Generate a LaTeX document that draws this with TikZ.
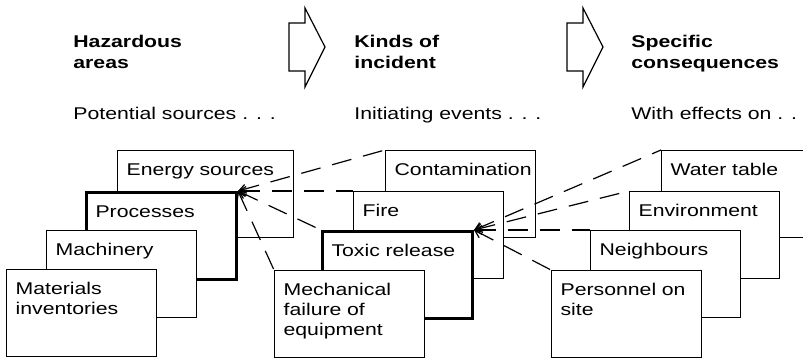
\documentclass[tikz,border=0pt]{standalone}
\usepackage{fontspec}
\setmainfont[FakeStretch=1.25]{Liberation Sans}
\usetikzlibrary{arrows.meta}
\tikzset{
  card/.style={draw, fill=white, line width=0.6pt, anchor=north west, inner xsep=4.5pt, inner ysep=0pt,
    text width=66pt, align=left, text height=12.5pt, text depth=31pt},
  hot/.style={line width=1.5pt},
  head/.style={anchor=base west, inner sep=0pt, text width=120pt, align=left,
    font=\bfseries\fontsize{8.5pt}{10.5pt}\selectfont},
  sub/.style={anchor=base west, inner sep=0pt},
  link/.style={line width=0.6pt, dash pattern=on 10pt off 6pt, {Straight Barb[length=3.5pt,width=4.5pt]}-}
}
\begin{document}
\begin{tikzpicture}[x=0.5pt, y=-0.5pt, font=\fontsize{8.5pt}{10pt}\selectfont]
\clip (0,0) rectangle (803,359);
% headings
\node[head] (hazard) at (73,47) {Hazardous\\areas};
\node[head] (kinds) at (354,47) {Kinds of\\incident};
\node[head] (specific) at (631,47) {Specific\\consequences};
\node[sub] (sources) at (73,119) {Potential sources . . .};
\node[sub] (events) at (354,119) {Initiating events . . .};
\node[sub] (effects) at (631,119) {With effects on . . .};
% block arrows
\foreach \x in {289,567}
  \draw[line width=0.6pt] (\x,23) -- ++(16,0) -- ++(0,-15) -- ++(20,39) -- ++(-20,40)
    -- ++(0,-16) -- ++(-16,0) -- cycle;
% hazardous areas
\node[card, text width=79pt] (energy) at (117,150) {Energy sources};
\node[card, hot] (processes) at (85,191) {Processes};
\node[card] (machinery) at (46,230) {Machinery};
\node[card] (materials) at (6,269) {Materials\\inventories};
% kinds of incident
\node[card] (contamination) at (385,150) {Contamination};
\node[card] (fire) at (353,191) {Fire};
\node[card, hot] (toxic) at (321,230) {Toxic release};
\node[card] (mechanical) at (274,270) {Mechanical\\failure of\\equipment};
% consequences
\node[card] (water) at (661,150) {Water table};
\node[card] (environment) at (629,191) {Environment};
\node[card] (neighbours) at (590,230) {Neighbours};
\node[card] (personnel) at (551,270) {Personnel on\\site};
% links
\foreach \dest in {contamination, fire, toxic, mechanical}
  \draw[link] (processes.north east) -- (\dest.north west);
\foreach \dest in {water, environment, neighbours, personnel}
  \draw[link] (toxic.north east) -- (\dest.north west);
\end{tikzpicture}
\end{document}
